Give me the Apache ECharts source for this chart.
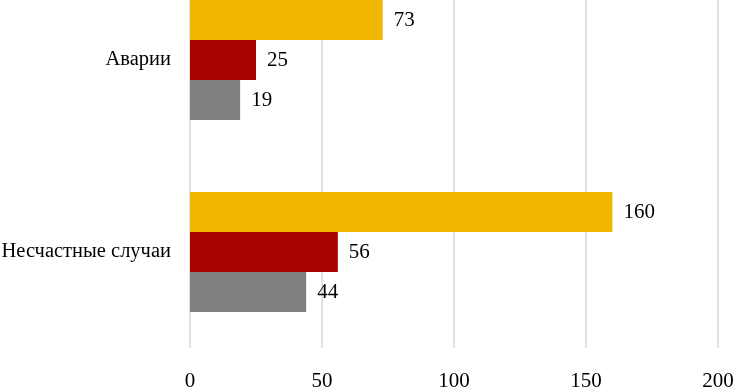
<!DOCTYPE html>
<html>
<head>
<meta charset="utf-8">
<script src="https://cdn.jsdelivr.net/npm/echarts@6/dist/echarts.min.js"></script>
<style>
  html, body { margin: 0; padding: 0; background: #fff; }
  #chart { width: 734px; height: 387px; }
</style>
</head>
<body>
<div id="chart"></div>
<script>
const categories = ['Аварии', 'Несчастные случаи'];
const seriesA = [73, 160];
const seriesB = [25, 56];
const seriesC = [19, 44];
const xTicks = [0, 50, 100, 150, 200];

const font = '"Liberation Serif", "Times New Roman", serif';
const chart = echarts.init(document.getElementById('chart'));

const label = {
  show: true,
  position: 'right',
  distance: 11,
  color: '#000',
  fontFamily: font,
  fontSize: 21
};

const bar = (data, color) => ({
  type: 'bar',
  data,
  barWidth: 40,
  barGap: '0%',
  barCategoryGap: '37.5%',
  itemStyle: { color },
  label
});

chart.setOption({
  animation: false,
  grid: { left: 190, right: 16, top: -36, bottom: 39, containLabel: false, outerBoundsMode: 'none' },
  xAxis: {
    type: 'value',
    min: xTicks[0],
    max: xTicks[xTicks.length - 1],
    interval: 50,
    axisLine: { show: false },
    axisTick: { show: false },
    axisLabel: { color: '#000', fontFamily: font, fontSize: 21, margin: 23 },
    splitLine: { show: true, lineStyle: { color: '#d9d9d9', width: 1.5 } }
  },
  yAxis: {
    type: 'category',
    data: categories,
    inverse: true,
    axisLine: { show: false },
    axisTick: { show: false },
    axisLabel: { color: '#000', fontFamily: font, fontSize: 20.5, margin: 19 }
  },
  series: [
    bar(seriesA, '#f2b700'),
    bar(seriesB, '#a90000'),
    bar(seriesC, '#7f7f7f')
  ]
});
</script>
</body>
</html>
